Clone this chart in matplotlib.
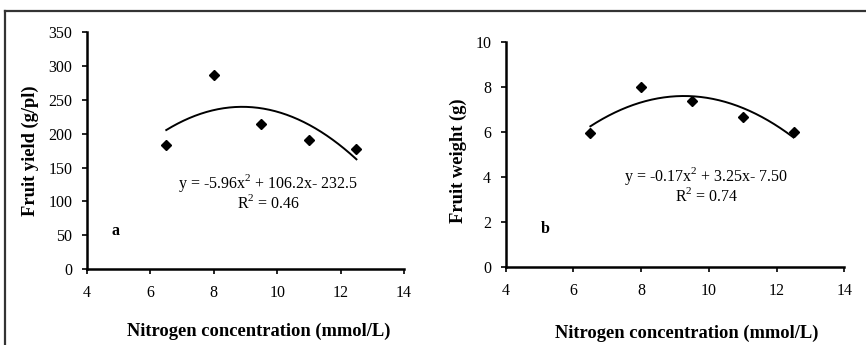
import numpy as np
import matplotlib
matplotlib.use('Agg')
import matplotlib.pyplot as plt
from matplotlib.lines import Line2D

# dane
nitrogen = [6.5, 8.0, 9.5, 11.0, 12.5]
fruit_yield = [183, 287, 215, 191, 177]
fruit_weight = [5.95, 8.0, 7.4, 6.65, 6.0]

eq_a = "y = -5.96x$^2$ + 106.2x- 232.5\nR$^2$ = 0.46"
eq_b = "y = -0.17x$^2$ + 3.25x- 7.50\nR$^2$ = 0.74"

plt.rcParams['font.family'] = ['Liberation Serif', 'DejaVu Serif']
plt.rcParams['mathtext.fontset'] = 'custom'
plt.rcParams['mathtext.rm'] = 'Liberation Serif'


def draw_panel(ax, x, y, ylim, yticks, ylabel, eq_text, eq_pos, letter, letter_pos,
               xlabel_pos, ylabel_pos):
    ax.plot(x, y, linestyle='none', marker='D', color='black', markersize=5.5)
    # linia trendu wielomianowa 2 stopnia
    coef = np.polyfit(x, y, 2)
    xs = np.linspace(min(x), max(x), 200)
    ax.plot(xs, np.polyval(coef, xs), color='black', linewidth=1.4)

    ax.set_xlim(4, 14)
    ax.set_ylim(*ylim)
    ax.set_xticks(range(4, 15, 2))
    ax.set_yticks(yticks)
    for s in ['top', 'right']:
        ax.spines[s].set_visible(False)
    for s in ['left', 'bottom']:
        ax.spines[s].set_linewidth(1.8)
    ax.tick_params(direction='out', length=3.5, width=1.2, labelsize=11.5)
    ax.tick_params(axis='x', pad=8)
    ax.tick_params(axis='y', pad=7)

    ax.set_xlabel('Nitrogen concentration (mmol/L)', fontsize=13.3, fontweight='bold')
    ax.set_ylabel(ylabel, fontsize=13.3, fontweight='bold')
    ax.xaxis.set_label_coords(*xlabel_pos)
    ax.yaxis.set_label_coords(*ylabel_pos)

    ax.text(eq_pos[0], eq_pos[1], eq_text, ha='center', va='center', fontsize=11.5,
            linespacing=0.95)
    ax.text(letter_pos[0], letter_pos[1], letter, ha='center', va='center',
            fontsize=11.5, fontweight='bold')


fig = plt.figure(figsize=(8.66, 3.45), dpi=100)
ax1 = fig.add_axes([0.1005, 0.220, 0.366, 0.687])
ax2 = fig.add_axes([0.584, 0.226, 0.391, 0.652])

draw_panel(ax1, nitrogen, fruit_yield, (0, 350), range(0, 351, 50), 'Fruit yield (g/pl)',
           eq_a, (9.72, 114), 'a', (4.91, 56), (0.543, -0.228), (-0.151, 0.5))
draw_panel(ax2, nitrogen, fruit_weight, (0, 10), range(0, 11, 2), 'Fruit weight (g)',
           eq_b, (9.93, 3.65), 'b', (5.18, 1.69), (0.534, -0.258), (-0.115, 0.471))

# ramka wokół całości (widoczne lewa i górna krawędź)
fig.add_artist(Line2D([5 / 866, 5 / 866], [0, 1 - 11 / 345], transform=fig.transFigure,
                      color='#333333', linewidth=1.6))
fig.add_artist(Line2D([5 / 866, 1], [1 - 11 / 345, 1 - 11 / 345], transform=fig.transFigure,
                      color='#333333', linewidth=1.6))

fig.savefig('out.png', dpi=100)
